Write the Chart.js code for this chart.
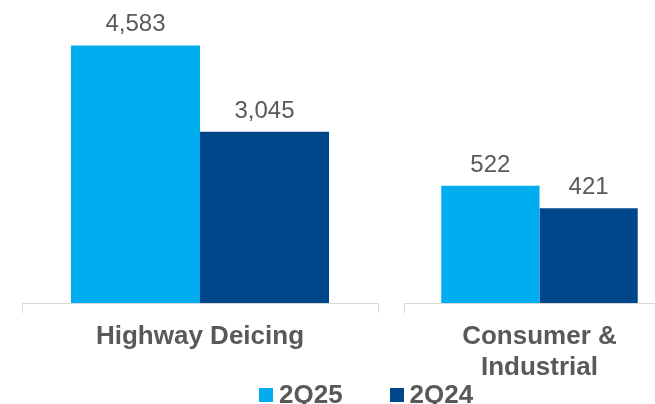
<!DOCTYPE html>
<html lang="en">
<head>
  <meta charset="UTF-8">
  <title>Segment Sales</title>
  <script src="https://cdn.jsdelivr.net/npm/chart.js"></script>
  <style>
    html, body { margin: 0; padding: 0; background: #fff; }
    body { width: 655px; height: 404px; overflow: hidden; position: relative; font-family: "Liberation Sans", Arial, sans-serif; }
    canvas { position: absolute; top: 0; }
    #c1 { left: 0; }
    #c2 { left: 400px; }
    #legend { position: absolute; top: 381px; left: 259px; height: 26px; display: flex; color: #595959; font-weight: bold; font-size: 26px; line-height: 26px; }
    .item { display: flex; align-items: flex-start; margin-right: 47px; }
    .swatch { width: 14px; height: 14px; margin-top: 7px; margin-right: 6px; }
  </style>
</head>
<body>
  <canvas id="c1" width="400" height="404"></canvas>
  <canvas id="c2" width="300" height="404"></canvas>
  <div id="legend"></div>

  <script>
    // data
    const categories = ['Highway Deicing', ['Consumer &', 'Industrial']];
    const seriesNames = ['2Q25', '2Q24'];
    const values2Q25 = [4583, 522];
    const values2Q24 = [3045, 421];
    const seriesColors = ['#00AEEF', '#00468B'];
    const axisMax = [5000, 1250];

    const textGray = '#595959';

    // value labels above the bars
    const valueLabels = {
      id: 'valueLabels',
      afterDatasetsDraw(chart) {
        const ctx = chart.ctx;
        ctx.save();
        ctx.font = '24px "Liberation Sans", Arial, sans-serif';
        ctx.fillStyle = textGray;
        ctx.textAlign = 'center';
        ctx.textBaseline = 'alphabetic';
        chart.data.datasets.forEach((ds, i) => {
          chart.getDatasetMeta(i).data.forEach((bar, j) => {
            ctx.fillText(ds.data[j].toLocaleString('en-US'), bar.x, bar.y - 14);
          });
        });
        ctx.restore();
      }
    };

    function makeChart(id, idx, pad) {
      new Chart(document.getElementById(id), {
        type: 'bar',
        data: {
          labels: [categories[idx]],
          datasets: [
            { label: seriesNames[0], data: [values2Q25[idx]], backgroundColor: seriesColors[0] },
            { label: seriesNames[1], data: [values2Q24[idx]], backgroundColor: seriesColors[1] }
          ]
        },
        options: {
          responsive: false,
          animation: false,
          layout: { padding: pad },
          datasets: { bar: { categoryPercentage: 0.725, barPercentage: 1.0 } },
          plugins: { legend: { display: false }, tooltip: { enabled: false } },
          scales: {
            x: {
              afterFit: s => { s.height = 101; },
              grid: { offset: true, drawOnChartArea: false, tickLength: 10, color: '#D9D9D9' },
              border: { display: true, color: '#D9D9D9' },
              ticks: {
                color: textGray,
                padding: 8,
                maxRotation: 0,
                autoSkip: false,
                font: { family: '"Liberation Sans", Arial, sans-serif', size: 26, weight: 'bold', lineHeight: 1.2 }
              }
            },
            y: { display: false, min: 0, max: axisMax[idx] }
          }
        },
        plugins: [valueLabels]
      });
    }

    makeChart('c1', 0, { left: 22, right: 22, top: 22, bottom: 0 });
    makeChart('c2', 1, { left: 4, right: 25, top: 22, bottom: 0 });

    // legend
    const legend = document.getElementById('legend');
    seriesNames.forEach((name, i) => {
      const item = document.createElement('div');
      item.className = 'item';
      const sw = document.createElement('span');
      sw.className = 'swatch';
      sw.style.background = seriesColors[i];
      const txt = document.createElement('span');
      txt.textContent = name;
      item.appendChild(sw);
      item.appendChild(txt);
      legend.appendChild(item);
    });
  </script>
</body>
</html>
